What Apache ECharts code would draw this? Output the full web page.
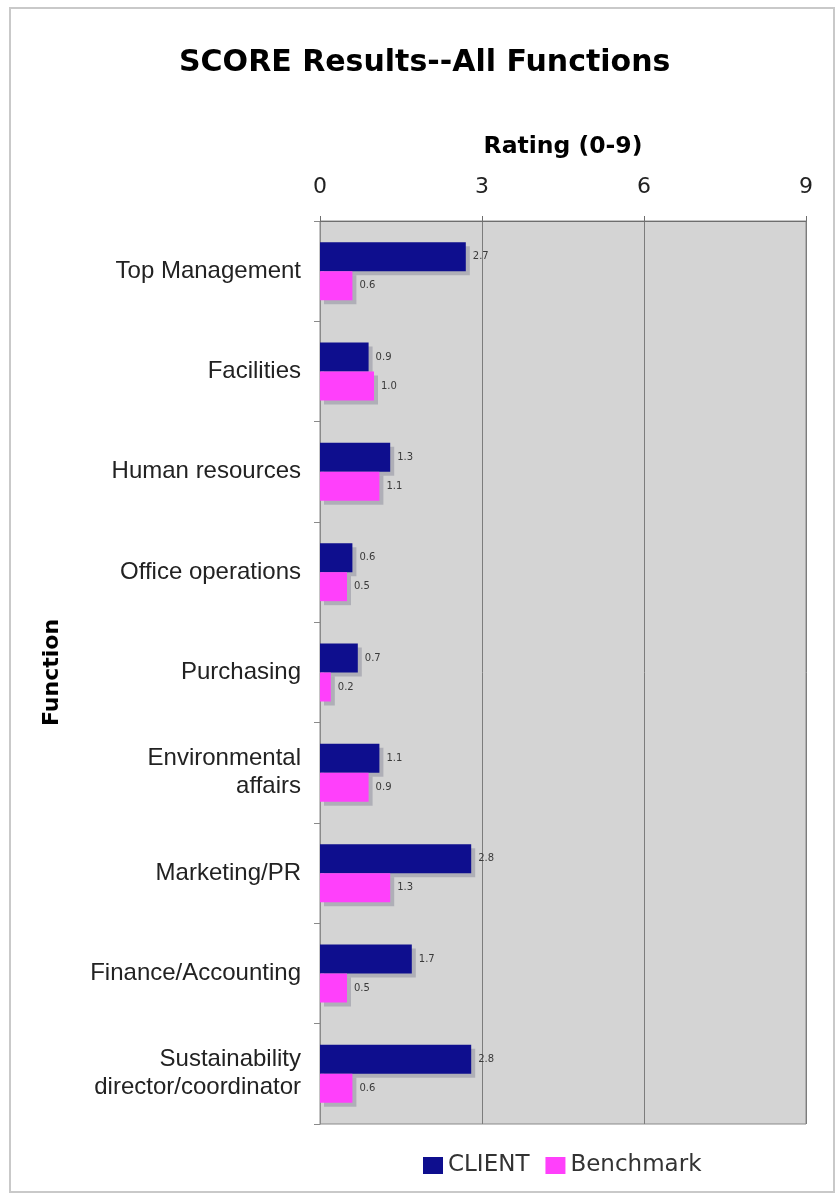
<!DOCTYPE html>
<html>
<head>
<meta charset="utf-8">
<script src="https://cdn.jsdelivr.net/npm/echarts@6/dist/echarts.min.js"></script>
<style>
  html, body { margin: 0; padding: 0; background: #ffffff; }
  #chart { width: 836px; height: 1196px; }
</style>
</head>
<body>
<div id="chart"></div>
<script>
// Functions rated, top to bottom
const categories = [
  'Top Management',
  'Facilities',
  'Human resources',
  'Office operations',
  'Purchasing',
  'Environmental\naffairs',
  'Marketing/PR',
  'Finance/Accounting',
  'Sustainability\ndirector/coordinator'
];
// Scores on the 0-9 rating scale
const clientScores    = [2.7, 0.9, 1.3, 0.6, 0.7, 1.1, 2.8, 1.7, 2.8];
const benchmarkScores = [0.6, 1.0, 1.1, 0.5, 0.2, 0.9, 1.3, 0.5, 0.6];
const ratingTicks = [0, 3, 6, 9];

const chart = echarts.init(document.getElementById('chart'), null, { renderer: 'canvas' });

const valueLabel = {
  show: true,
  position: 'right',
  distance: 7,
  fontFamily: 'DejaVu Sans',
  fontSize: 10,
  color: '#3a3a3a',
  formatter: p => p.value.toFixed(1)
};

const barShadow = {
  shadowColor: 'rgba(120,120,140,0.4)',
  shadowBlur: 0,
  shadowOffsetX: 4,
  shadowOffsetY: 4
};

chart.setOption({
  backgroundColor: '#ffffff',
  animation: false,
  graphic: [{
    type: 'rect',
    shape: { x: 10, y: 8, width: 824, height: 1184 },
    style: { fill: 'none', stroke: '#c9c9c9', lineWidth: 2 },
    z: -10
  }],
  title: {
    text: 'SCORE Results--All Functions',
    left: 174,
    top: 43,
    textStyle: {
      fontFamily: 'DejaVu Sans',
      fontWeight: 'bold',
      fontSize: 30,
      color: '#000000'
    }
  },
  legend: {
    bottom: 14,
    left: 418,
    itemWidth: 20,
    itemHeight: 17,
    itemGap: 16,
    icon: 'rect',
    textStyle: {
      fontFamily: 'DejaVu Sans',
      fontSize: 23,
      color: '#333333',
      padding: [0, 0, 0, 0]
    },
    data: ['CLIENT', 'Benchmark']
  },
  grid: {
    left: 320,
    right: 30,
    top: 221,
    bottom: 72,
    show: true,
    backgroundColor: '#d4d4d4',
    borderColor: '#8a8a8a',
    borderWidth: 1
  },
  xAxis: {
    type: 'value',
    position: 'top',
    min: ratingTicks[0],
    max: ratingTicks[ratingTicks.length - 1],
    interval: 3,
    name: 'Rating (0-9)',
    nameLocation: 'middle',
    nameGap: 62,
    nameTextStyle: {
      fontFamily: 'DejaVu Sans',
      fontWeight: 'bold',
      fontSize: 23.5,
      color: '#000000'
    },
    axisLine: { show: true, lineStyle: { color: '#6e6e6e', width: 1 } },
    axisTick: { show: true, length: 5, lineStyle: { color: '#6e6e6e' } },
    axisLabel: {
      margin: 23,
      fontFamily: 'DejaVu Sans',
      fontSize: 22,
      color: '#222222'
    },
    splitLine: { show: true, lineStyle: { color: '#7c7c7c', width: 1 } }
  },
  yAxis: {
    type: 'category',
    inverse: true,
    data: categories,
    name: 'Function',
    nameLocation: 'middle',
    nameGap: 257,
    nameRotate: 90,
    nameTextStyle: {
      fontFamily: 'DejaVu Sans',
      fontWeight: 'bold',
      fontSize: 22,
      color: '#000000'
    },
    axisLine: { show: true, lineStyle: { color: '#8a8a8a', width: 1 } },
    axisTick: { show: true, length: 6, lineStyle: { color: '#8a8a8a' } },
    axisLabel: {
      margin: 19,
      fontFamily: 'Liberation Sans',
      fontSize: 24,
      lineHeight: 28,
      color: '#222222',
      align: 'right'
    }
  },
  series: [
    {
      name: 'CLIENT',
      type: 'bar',
      data: clientScores,
      barWidth: 29,
      barGap: '0%',
      itemStyle: Object.assign({ color: '#0e0e8e' }, barShadow),
      label: valueLabel
    },
    {
      name: 'Benchmark',
      type: 'bar',
      data: benchmarkScores,
      barWidth: 29,
      barGap: '0%',
      itemStyle: Object.assign({ color: '#ff40fb' }, barShadow),
      label: valueLabel
    }
  ]
});
</script>
</body>
</html>
